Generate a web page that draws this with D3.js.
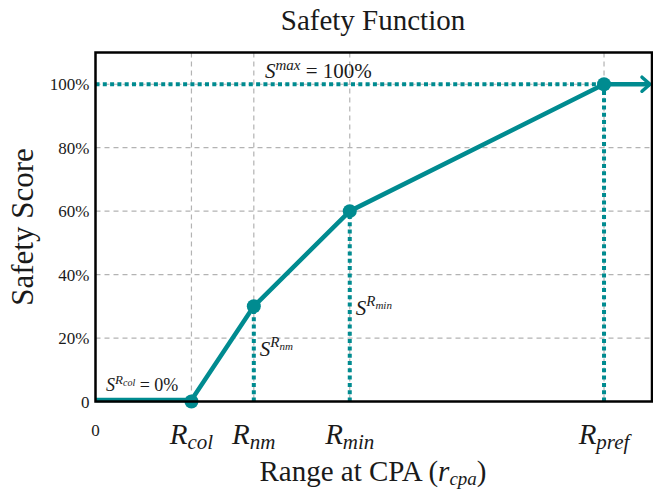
<!DOCTYPE html>
<html>
<head>
<meta charset="utf-8">
<script src="https://cdn.jsdelivr.net/npm/d3@7"></script>
<style>
  body { margin: 0; background: #fff; }
  text { font-family: "Liberation Serif", "DejaVu Serif", serif; fill: #1a1a1a; }
</style>
</head>
<body>
<svg id="chart" width="653" height="493"></svg>
<script>
// safety function data
const rangeNames = ["col", "nm", "min", "pref"];
const rangeValues = [1.0, 1.65, 2.65, 5.3];
const curveX = [0, 1.0, 1.65, 2.65, 5.3];
const curveY = [0, 0, 0.3, 0.6, 1.0];
const markerX = [1.0, 1.65, 2.65, 5.3];
const markerY = [0, 0.3, 0.6, 1.0];
const yTicks = [0, 0.2, 0.4, 0.6, 0.8, 1.0];
const yTickLabels = ["0", "20%", "40%", "60%", "80%", "100%"];

function drawChart() {
    const svg = d3.select("#chart");
    const left = 95.5, right = 652, top = 52.5, bottom = 401.5;
    const teal = "#008b90";

    const x = d3.scaleLinear().domain([0, 5.8]).range([left, right]);
    const y = d3.scaleLinear().domain([0, 1.1]).range([bottom, top]);

    // grid
    svg.append("g").selectAll("line")
        .data(yTicks.slice(1))
        .enter().append("line")
        .attr("x1", left).attr("x2", right)
        .attr("y1", d => y(d)).attr("y2", d => y(d))
        .attr("stroke", "#b3b3b3").attr("stroke-width", 1.2)
        .attr("stroke-dasharray", "5,4");
    svg.append("g").selectAll("line")
        .data(rangeValues)
        .enter().append("line")
        .attr("x1", d => x(d)).attr("x2", d => x(d))
        .attr("y1", top).attr("y2", bottom)
        .attr("stroke", "#b3b3b3").attr("stroke-width", 1.2)
        .attr("stroke-dasharray", "5,4");

    // dotted guides
    const dotted = svg.append("g")
        .attr("stroke", teal).attr("stroke-width", 4)
        .attr("stroke-dasharray", "4,3.3");
    dotted.append("line")
        .attr("x1", x(0)).attr("x2", x(5.3))
        .attr("y1", y(1)).attr("y2", y(1));
    dotted.selectAll(".vguide")
        .data(markerX.slice(1).map((d, i) => [d, markerY[i + 1]]))
        .enter().append("line")
        .attr("class", "vguide")
        .attr("x1", d => x(d[0])).attr("x2", d => x(d[0]))
        .attr("y1", bottom).attr("y2", d => y(d[1]));

    // curve
    const line = d3.line().x(d => x(d[0])).y(d => y(d[1]) - 1.5 * (d[1] === 0));
    svg.append("path")
        .datum(curveX.map((d, i) => [d, curveY[i]]))
        .attr("d", line)
        .attr("fill", "none").attr("stroke", teal)
        .attr("stroke-width", 4.5).attr("stroke-linejoin", "round");

    // arrow to the right
    svg.append("line")
        .attr("x1", x(5.3)).attr("x2", right - 2)
        .attr("y1", y(1)).attr("y2", y(1))
        .attr("stroke", teal).attr("stroke-width", 4.5);
    svg.append("path")
        .attr("d", `M${right - 10},${y(1) - 7}L${right - 2},${y(1)}L${right - 10},${y(1) + 7}`)
        .attr("fill", "none").attr("stroke", teal).attr("stroke-width", 3.5)
        .attr("stroke-linecap", "round").attr("stroke-linejoin", "round");

    svg.append("g").selectAll("circle")
        .data(markerX.map((d, i) => [d, markerY[i]]))
        .enter().append("circle")
        .attr("cx", d => x(d[0])).attr("cy", d => y(d[1]))
        .attr("r", 7).attr("fill", teal);

    // frame
    svg.append("rect")
        .attr("x", left).attr("y", top)
        .attr("width", right - left).attr("height", bottom - top)
        .attr("fill", "none").attr("stroke", "#000").attr("stroke-width", 2.5);

    // y ticks
    svg.append("g").selectAll("text")
        .data(yTicks)
        .enter().append("text")
        .attr("x", left - 6).attr("y", d => y(d) + 6)
        .attr("text-anchor", "end")
        .attr("font-size", "17px")
        .text((d, i) => yTickLabels[i]);

    // x ticks
    svg.append("text")
        .attr("x", x(0)).attr("y", 436)
        .attr("text-anchor", "middle").attr("font-size", "17px")
        .text("0");
    const xt = svg.append("g").selectAll("text")
        .data(rangeValues)
        .enter().append("text")
        .attr("x", d => x(d)).attr("y", 444)
        .attr("text-anchor", "middle")
        .attr("font-size", "29px").attr("font-style", "italic");
    xt.append("tspan").text("R");
    xt.append("tspan").attr("font-size", "21px").attr("dy", 5)
        .text((d, i) => rangeNames[i]);

    // annotations
    const smax = svg.append("text").attr("x", 265).attr("y", 78).attr("font-size", "21px");
    smax.append("tspan").attr("font-style", "italic").text("S");
    smax.append("tspan").attr("font-style", "italic").attr("font-size", "15px").attr("dy", -8).text("max");
    smax.append("tspan").attr("dy", 8).text(" = 100%");

    const scol = svg.append("text").attr("x", 106).attr("y", 391).attr("font-size", "18px");
    scol.append("tspan").attr("font-style", "italic").text("S");
    scol.append("tspan").attr("font-style", "italic").attr("font-size", "13px").attr("dy", -7).text("R");
    scol.append("tspan").attr("font-style", "italic").attr("font-size", "10px").attr("dy", 2).text("col");
    scol.append("tspan").attr("dy", 5).text(" = 0%");

    const sLabels = [[1.65, 356, "nm"], [2.65, 315, "min"]];
    sLabels.forEach(s => {
        const t = svg.append("text").attr("x", x(s[0]) + 6).attr("y", s[1]).attr("font-size", "21px")
            .attr("font-style", "italic");
        t.append("tspan").text("S");
        t.append("tspan").attr("font-size", "15px").attr("dy", -9).text("R");
        t.append("tspan").attr("font-size", "11px").attr("dy", 3).text(s[2]);
    });

    // titles
    svg.append("text")
        .attr("x", 373).attr("y", 30)
        .attr("text-anchor", "middle").attr("font-size", "29px")
        .text("Safety Function");
    const xl = svg.append("text")
        .attr("x", 373).attr("y", 481)
        .attr("text-anchor", "middle").attr("font-size", "29px");
    xl.append("tspan").text("Range at CPA (");
    xl.append("tspan").attr("font-style", "italic").text("r");
    xl.append("tspan").attr("font-style", "italic").attr("font-size", "19px").attr("dy", 4).text("cpa");
    xl.append("tspan").attr("dy", -4).text(")");
    svg.append("text")
        .attr("transform", `translate(33,${(top + bottom) / 2}) rotate(-90)`)
        .attr("text-anchor", "middle").attr("font-size", "31px")
        .text("Safety Score");
}

drawChart();
</script>
</body>
</html>
